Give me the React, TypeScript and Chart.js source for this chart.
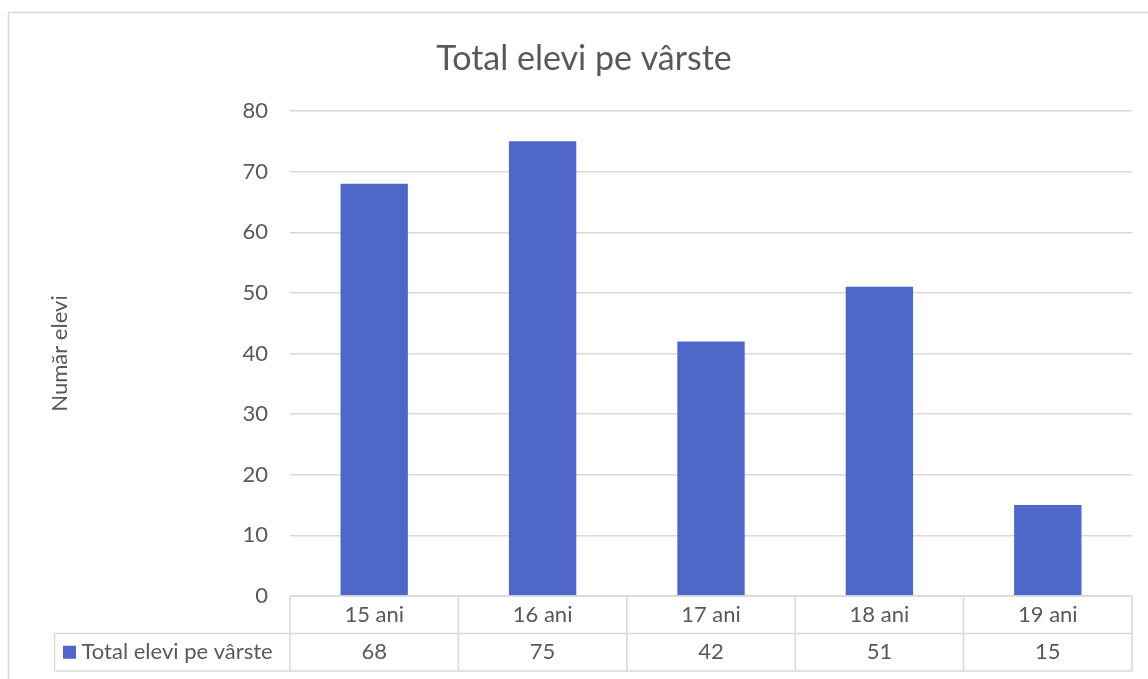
import React, { useEffect, useRef } from "react";
import { Chart, registerables } from "chart.js";

Chart.register(...registerables);

const chartTitle = "Total elevi pe vârste";
const yAxisTitle = "Număr elevi";
const seriesName = "Total elevi pe vârste";
const categories = ["15 ani", "16 ani", "17 ani", "18 ani", "19 ani"];
const values = [68, 75, 42, 51, 15];
const yMin = 0;
const yMax = 80;
const yStep = 10;

const TEXT = "#595959";
const GRID = "#d9d9d9";
const BAR = "#4e67c8";
const FONT = "Lato, 'Open Sans', 'Noto Sans', sans-serif";
const SMALL = 22;

const framePlugin = {
  id: "frame",
  beforeDraw(chart: any) {
    const ctx = chart.ctx;
    ctx.save();
    ctx.fillStyle = "#ffffff";
    ctx.fillRect(0, 0, chart.width, chart.height);
    ctx.strokeStyle = GRID;
    ctx.lineWidth = 1.5;
    ctx.beginPath();
    ctx.moveTo(8.5, chart.height);
    ctx.lineTo(8.5, 12.5);
    ctx.lineTo(chart.width, 12.5);
    ctx.stroke();
    ctx.restore();
  },
};

const tablePlugin = {
  id: "dataTable",
  afterDraw(chart: any) {
    const ctx = chart.ctx;
    const x = chart.scales.x;
    const area = chart.chartArea;
    const n = categories.length;
    const half = (x.getPixelForValue(1) - x.getPixelForValue(0)) / 2;
    const edges: number[] = [];
    for (let i = 0; i < n; i++) edges.push(x.getPixelForValue(i) - half);
    edges.push(x.getPixelForValue(n - 1) + half);
    const rowH = 37.5;
    const top = area.bottom;
    const mid = top + rowH;
    const bot = mid + rowH;
    const labelLeft = 54.5;
    const line = (x1: number, y1: number, x2: number, y2: number) => {
      ctx.beginPath();
      ctx.moveTo(x1, y1);
      ctx.lineTo(x2, y2);
      ctx.stroke();
    };
    ctx.save();
    ctx.strokeStyle = GRID;
    ctx.lineWidth = 1.5;
    line(edges[0], top, edges[n], top);
    line(labelLeft, mid, edges[n], mid);
    line(labelLeft, bot, edges[n], bot);
    edges.forEach((e) => line(e, top, e, bot));
    line(labelLeft, mid, labelLeft, bot);

    ctx.fillStyle = TEXT;
    ctx.font = `${SMALL}px ${FONT}`;
    ctx.textAlign = "center";
    ctx.textBaseline = "middle";
    categories.forEach((c, i) => ctx.fillText(c, x.getPixelForValue(i), top + rowH / 2));
    values.forEach((v, i) => ctx.fillText(String(v), x.getPixelForValue(i), mid + rowH / 2));

    ctx.fillStyle = BAR;
    ctx.fillRect(labelLeft + 8.5, mid + rowH / 2 - 6.5, 13, 13);
    ctx.fillStyle = TEXT;
    ctx.textAlign = "left";
    ctx.fillText(seriesName, labelLeft + 27, mid + rowH / 2);
    ctx.restore();
  },
};

export default function App() {
  const ref = useRef<HTMLCanvasElement | null>(null);

  useEffect(() => {
    if (!ref.current) return;
    const chart = new Chart(ref.current, {
      type: "bar",
      data: {
        labels: categories,
        datasets: [
          {
            label: seriesName,
            data: values,
            backgroundColor: BAR,
            borderWidth: 0,
            barPercentage: 0.4,
            categoryPercentage: 1,
          },
        ],
      },
      options: {
        responsive: false,
        animation: false,
        layout: { padding: { left: 36, right: 16, top: 12, bottom: 7 } },
        plugins: {
          legend: { display: false },
          tooltip: { enabled: false },
          title: {
            display: true,
            text: chartTitle,
            color: TEXT,
            font: { family: FONT, size: 34, weight: "normal" },
            padding: { top: 27, bottom: 31.2 },
          },
        },
        scales: {
          x: {
            ticks: { display: false },
            grid: { display: false },
            border: { display: false },
            afterFit(s: any) {
              s.height = 76;
            },
          },
          y: {
            min: yMin,
            max: yMax,
            ticks: {
              stepSize: yStep,
              color: TEXT,
              font: { family: FONT, size: SMALL },
              padding: 22,
            },
            grid: { color: GRID, lineWidth: 1.5, drawTicks: false },
            border: { display: false },
            title: {
              display: true,
              text: yAxisTitle,
              color: TEXT,
              font: { family: FONT, size: SMALL },
              padding: { top: 11, bottom: 0 },
            },
            afterFit(s: any) {
              s.width = 254;
            },
          },
        },
      },
      plugins: [framePlugin, tablePlugin],
    });
    return () => chart.destroy();
  }, []);

  return (
    <div style={{ position: "absolute", left: 0, top: 0, width: 1148, height: 679 }}>
      <canvas ref={ref} width={1148} height={679} style={{ display: "block" }} />
    </div>
  );
}
